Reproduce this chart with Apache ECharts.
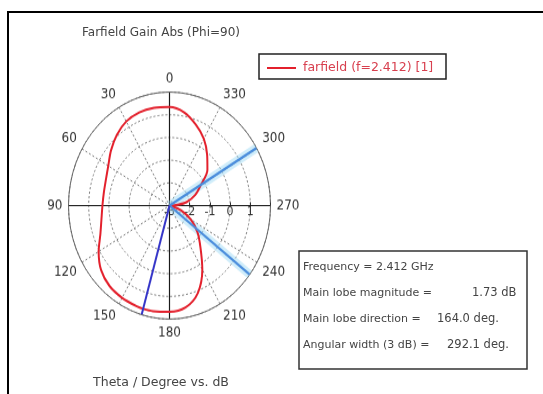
<!DOCTYPE html>
<html>
<head>
<meta charset="utf-8">
<script src="https://cdn.jsdelivr.net/npm/echarts@6/dist/echarts.min.js"></script>
<style>
  html, body { margin: 0; padding: 0; background: #fff; }
  #page { position: absolute; left: 0; top: 0; width: 543px; height: 394px; }
  /* polar plot is drawn slightly taller than wide, like the CST farfield view */
  #polar { position: absolute; left: 19px; top: 55px; width: 300px; height: 300px;
           transform: scaleY(1.124); transform-origin: 50% 50%; }
</style>
</head>
<body>
<div id="page"></div>
<div id="polar"></div>
<script>
// Farfield gain (dB) versus theta (deg), phi = 90
const thetaDeg = [0, 10, 20, 30, 40, 50, 60, 70, 80, 90, 100, 110, 120, 130, 140, 150, 160, 164,
                  170, 180, 190, 200, 210, 220, 230, 240, 250, 260, 265, 270, 275, 280, 290, 300,
                  310, 320, 330, 340, 350];
const gainDb   = [1.34, 1.37, 1.37, 1.28, 1.06, 0.78, 0.50, 0.35, 0.30, 0.32, 0.42, 0.64, 1.05, 1.42, 1.62, 1.69, 1.725, 1.73,
                  1.72, 1.68, 1.56, 1.10, 0.25, -0.62, -1.20, -1.78, -2.40, -2.90, -3.00, -3.00, -2.60, -2.15, -1.65, -1.22,
                  -0.55, -0.10, 0.40, 0.80, 1.17];

const frequencyGHz = 2.412;
const mainLobeMagDb = 1.73;
const mainLobeDirDeg = 164.0;
const halfPowerEdgesDeg = [232.6, 300.5];
const radiusMinDb = -3;
const radiusMaxDb = 2;
const angleLabelsDeg = [0, 30, 60, 90, 120, 150, 180, 210, 240, 270, 300, 330];
const crossAxesDeg = [0, 90];

const angularWidthDeg = 360 - (halfPowerEdgesDeg[1] - halfPowerEdgesDeg[0]);

// The angle axis runs 270..630 counter-clockwise from 3 o'clock so the
// radius scale lies along the 270 direction; theta is shifted into that range.
const toAxis = t => { const m = ((t % 360) + 360) % 360; return m < 270 ? m + 360 : m; };

const curve = thetaDeg.map((t, i) => [gainDb[i], toAxis(t)]).sort((a, b) => a[1] - b[1]);
curve.push([curve[0][0], curve[0][1] + 360]);

const radial = t => [[radiusMinDb, toAxis(t)], [radiusMaxDb, toAxis(t)]];

const polarChart = echarts.init(document.getElementById('polar'), null, { renderer: 'canvas' });
const font = 'DejaVu Sans';

const series = [];
crossAxesDeg.forEach(a => {
  series.push({
    type: 'line', coordinateSystem: 'polar', silent: true, showSymbol: false, symbol: 'none',
    lineStyle: { color: '#1a1a1a', width: 1.2 },
    data: [[radiusMaxDb, toAxis(a)], [radiusMinDb, toAxis(a)], [radiusMaxDb, toAxis(a + 180)]],
    z: 3
  });
});
halfPowerEdgesDeg.forEach(e => {
  series.push({
    type: 'line', coordinateSystem: 'polar', silent: true, symbol: 'none',
    lineStyle: { color: 'rgba(150,215,245,0.45)', width: 8 },
    data: radial(e), z: 3
  });
});
series.push({
  name: 'farfield (f=' + frequencyGHz + ') [1]',
  type: 'line', coordinateSystem: 'polar', silent: true, symbol: 'none', smooth: 0.3,
  lineStyle: { color: '#e3202c', width: 2 },
  data: curve, z: 4
});
halfPowerEdgesDeg.forEach(e => {
  series.push({
    type: 'line', coordinateSystem: 'polar', silent: true, symbol: 'none',
    lineStyle: { color: '#4a8ddc', width: 2.2 },
    data: radial(e), z: 5
  });
});
series.push({
  type: 'line', coordinateSystem: 'polar', silent: true, symbol: 'none',
  lineStyle: { color: '#3535c8', width: 2 },
  data: radial(mainLobeDirDeg), z: 6
});

polarChart.setOption({
  animation: false,
  polar: { center: [150.5, 150.5], radius: 101 },
  angleAxis: {
    type: 'value', min: 270, max: 630, interval: 30, startAngle: 0, clockwise: false,
    axisLine: { show: true, lineStyle: { color: '#666', width: 1 } },
    axisTick: { show: false },
    axisLabel: {
      margin: 6, color: '#333', fontFamily: font, fontSize: 12,
      formatter: v => (angleLabelsDeg.indexOf(v % 360) >= 0 && v < 630) ? String(v % 360) : ''
    },
    splitLine: { show: true, lineStyle: { color: '#7a7a7a', width: 1, type: [2, 2] } }
  },
  radiusAxis: {
    type: 'value', min: radiusMinDb, max: radiusMaxDb, interval: 1,
    axisLine: { show: false },
    axisTick: { show: true, length: 3, lineStyle: { color: '#333' } },
    axisLabel: {
      margin: -6, verticalAlign: 'middle', color: '#333', fontFamily: font, fontSize: 11,
      formatter: v => (v >= radiusMaxDb ? '' : String(v))
    },
    splitLine: { show: true, lineStyle: { color: '#7a7a7a', width: 1, type: [2, 2] } }
  },
  series: series
});

// Frame, titles, legend and result box
const pageChart = echarts.init(document.getElementById('page'), null, { renderer: 'canvas' });
const txt = (text, x, y, opts) => Object.assign({
  type: 'text',
  style: Object.assign({
    text: text, x: x, y: y, fill: '#444', font: '11px "DejaVu Sans"',
    textAlign: 'left', textVerticalAlign: 'middle', align: 'left', verticalAlign: 'middle'
  }, opts || {})
});
const center = (text, x, y, size) => txt(text, x, y, {
  textAlign: 'center', align: 'center', font: size + 'px "DejaVu Sans"'
});

pageChart.setOption({
  animation: false,
  graphic: [
    { type: 'polyline', shape: { points: [[8, 394], [8, 12], [543, 12]] },
      style: { stroke: '#000', lineWidth: 2, fill: null } },
    center('Farfield Gain Abs (Phi=90)', 161, 33, 12),
    center('Theta / Degree vs. dB', 161, 383, 12.5),
    { type: 'rect', shape: { x: 259, y: 54, width: 187, height: 25 },
      style: { fill: '#fff', stroke: '#222', lineWidth: 1.5 } },
    { type: 'line', shape: { x1: 267, y1: 68, x2: 296, y2: 68 },
      style: { stroke: '#e3202c', lineWidth: 2 } },
    txt('farfield (f=' + frequencyGHz + ') [1]', 303, 68, { fill: '#d8404f', font: '12.5px "DejaVu Sans"' }),
    { type: 'rect', shape: { x: 299, y: 251, width: 228, height: 118 },
      style: { fill: '#fff', stroke: '#333', lineWidth: 1.5 } },
    txt('Frequency = ' + frequencyGHz + ' GHz', 303, 267),
    txt('Main lobe magnitude =', 303, 293),
    txt(mainLobeMagDb.toFixed(2) + ' dB', 472, 293, { font: '11.5px "DejaVu Sans"' }),
    txt('Main lobe direction =', 303, 319),
    txt(mainLobeDirDeg.toFixed(1) + ' deg.', 437, 319, { font: '11.5px "DejaVu Sans"' }),
    txt('Angular width (3 dB) =', 303, 345),
    txt(angularWidthDeg.toFixed(1) + ' deg.', 447, 345, { font: '11.5px "DejaVu Sans"' })
  ]
});
</script>
</body>
</html>
